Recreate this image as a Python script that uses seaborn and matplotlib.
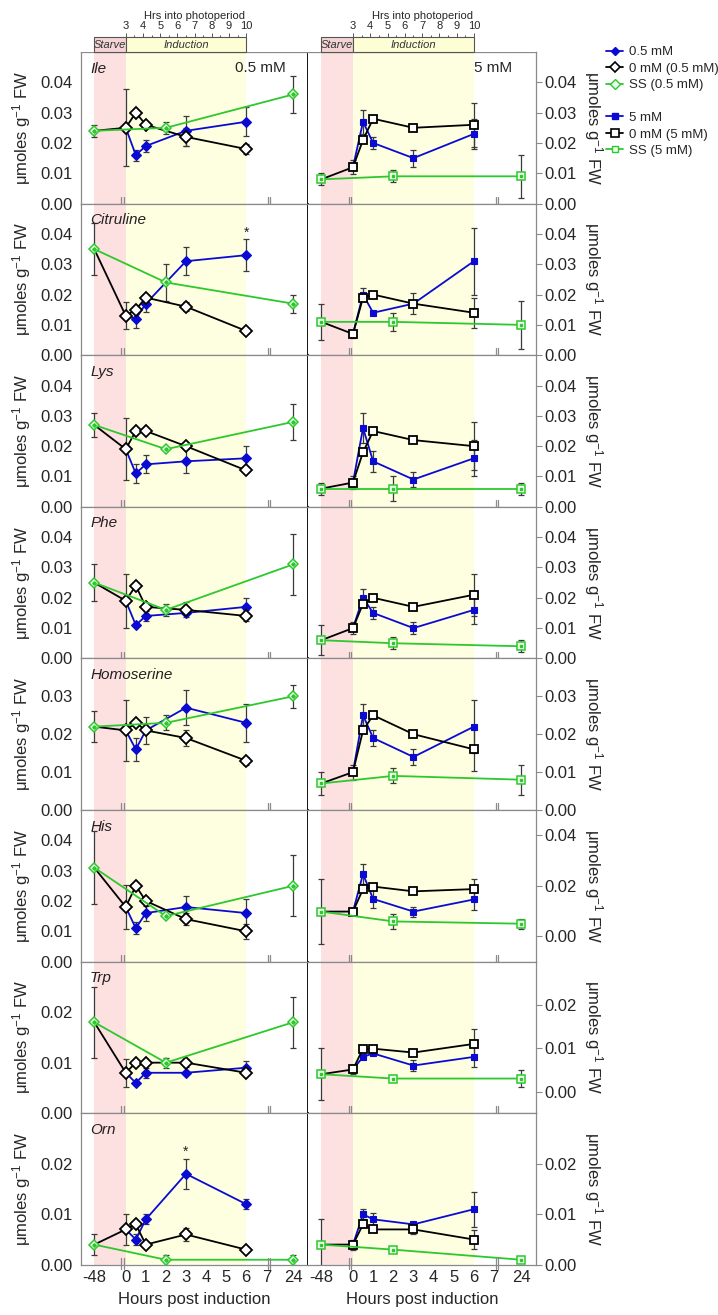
import numpy as np
import matplotlib
matplotlib.use("Agg")
import matplotlib.pyplot as plt
import seaborn as sns
from matplotlib.lines import Line2D
from matplotlib.patches import Rectangle

sns.set_theme(style="white")
plt.rcParams["font.family"] = ["Liberation Sans", "DejaVu Sans"]
plt.rcParams["mathtext.default"] = "regular"

amino = ["Ile", "Citruline", "Lys", "Phe", "Homoserine", "His", "Trp", "Orn"]

# sampling times (hours post induction)
t_trt = [0.5, 1, 3, 6]
t_ctl = [0, 0.5, 1, 3, 6]
t_ss = [-48, 2, 24]

# ---- 0.5 mM side ----
trt_low = [[0.016, 0.019, 0.024, 0.027], [0.012, 0.017, 0.031, 0.033],
           [0.011, 0.014, 0.015, 0.016], [0.011, 0.014, 0.015, 0.017],
           [0.016, 0.021, 0.027, 0.023], [0.011, 0.016, 0.018, 0.016],
           [0.006, 0.008, 0.008, 0.009], [0.005, 0.009, 0.018, 0.012]]
trt_low_err = [[0.0018, 0.002, 0.005, 0.0048], [0.003, 0.0027, 0.0047, 0.0052],
               [0.003, 0.003, 0.004, 0.004], [0, 0.0015, 0, 0.003],
               [0.003, 0, 0.0047, 0.005], [0.002, 0.0025, 0.0037, 0.0045],
               [0, 0.001, 0, 0.0013], [0.001, 0.001, 0.003, 0.001]]
ctl_low = [[0.025, 0.030, 0.026, 0.022, 0.018], [0.013, 0.015, 0.019, 0.016, 0.008],
           [0.019, 0.025, 0.025, 0.020, 0.012], [0.019, 0.024, 0.017, 0.016, 0.014],
           [0.021, 0.023, 0.021, 0.019, 0.013], [0.018, 0.025, 0.020, 0.014, 0.010],
           [0.008, 0.010, 0.010, 0.010, 0.008], [0.007, 0.008, 0.004, 0.006, 0.003]]
ctl_low_err = [[0.0127, 0, 0, 0.003, 0.0015], [0.0045, 0, 0, 0.0015, 0],
               [0.0103, 0, 0, 0, 0], [0.009, 0, 0, 0.0025, 0.0018],
               [0.008, 0, 0.0035, 0.002, 0.001], [0.0074, 0, 0, 0.002, 0.0025],
               [0.0028, 0, 0, 0.0008, 0], [0.003, 0, 0, 0.0013, 0]]
ss_low = [[0.024, 0.025, 0.036], [0.035, 0.024, 0.017], [0.027, 0.019, 0.028],
          [0.025, 0.016, 0.031], [0.022, 0.023, 0.030], [0.031, 0.015, 0.025],
          [0.018, 0.010, 0.018], [0.004, 0.001, 0.001]]
ss_low_err = [[0.002, 0.002, 0.006], [0.0087, 0.006, 0.003], [0.004, 0, 0.006],
              [0.006, 0.002, 0.010], [0.004, 0.002, 0.003], [0.012, 0, 0.010],
              [0.007, 0.001, 0.005], [0.002, 0.001, 0.001]]

# ---- 5 mM side ----
trt_high = [[0.027, 0.020, 0.015, 0.023], [0.020, 0.014, 0.017, 0.031],
            [0.026, 0.015, 0.009, 0.016], [0.020, 0.015, 0.010, 0.016],
            [0.025, 0.019, 0.014, 0.022], [0.0247, 0.0148, 0.0098, 0.0146],
            [0.008, 0.0088, 0.006, 0.008], [0.010, 0.009, 0.008, 0.011]]
trt_high_err = [[0.004, 0.002, 0.0028, 0.005], [0.002, 0, 0, 0.011],
                [0.005, 0.0035, 0.0024, 0.006], [0.003, 0.002, 0.002, 0.0045],
                [0.003, 0.002, 0.002, 0.007], [0.004, 0.0035, 0.002, 0.004],
                [0, 0, 0.0013, 0.0023], [0.001, 0.0013, 0, 0.0035]]
ctl_high = [[0.012, 0.021, 0.028, 0.025, 0.026], [0.007, 0.019, 0.020, 0.017, 0.014],
            [0.008, 0.018, 0.025, 0.022, 0.020], [0.010, 0.018, 0.020, 0.017, 0.021],
            [0.010, 0.021, 0.025, 0.020, 0.016], [0.0098, 0.0187, 0.0197, 0.0178, 0.0187],
            [0.0051, 0.0099, 0.0099, 0.009, 0.011], [0.004, 0.008, 0.007, 0.007, 0.005]]
ctl_high_err = [[0.0023, 0, 0, 0, 0.0073], [0.0014, 0, 0, 0.0034, 0.005],
                [0.002, 0, 0, 0, 0.008], [0.002, 0, 0, 0, 0.007],
                [0.002, 0, 0, 0, 0.0057], [0, 0, 0, 0, 0.004],
                [0.001, 0, 0, 0, 0.0035], [0.001, 0, 0, 0.001, 0.0018]]
ss_high = [[0.008, 0.009, 0.009], [0.011, 0.011, 0.010], [0.006, 0.006, 0.006],
           [0.006, 0.005, 0.004], [0.007, 0.009, 0.008], [0.0098, 0.0059, 0.005],
           [0.004, 0.003, 0.003], [0.004, 0.003, 0.001]]
ss_high_err = [[0.002, 0.002, 0.007], [0.006, 0.003, 0.008], [0.002, 0.004, 0.002],
               [0.005, 0.002, 0.002], [0.003, 0.002, 0.004], [0.013, 0.003, 0.002],
               [0.006, 0, 0.002], [0.005, 0, 0]]

# significant points on the 0.5 mM side: (panel, hour)
stars = [(1, 6), (7, 3)]

# axis ranges per panel
ylim_low = [(0, 0.05)] * 4 + [(0, 0.04), (0, 0.05), (0, 0.03), (0, 0.03)]
ylim_high = [(0, 0.05)] * 4 + [(0, 0.04), (-0.01, 0.05), (-0.005, 0.03), (0, 0.03)]
yt4 = [0, 0.01, 0.02, 0.03, 0.04]
yt3 = [0, 0.01, 0.02, 0.03]
yt2 = [0, 0.01, 0.02]
yticks_low = [yt4] * 4 + [yt3, yt4, yt2, yt2]
yticks_high = [yt4] * 4 + [yt3, [0, 0.02, 0.04], yt2, yt2]

hour_ticks = [-48, 0, 1, 2, 3, 4, 5, 6, 7, 24]
photo_ticks = [3, 4, 5, 6, 7, 8, 9, 10]

BLUE = "#0a0ad2"
GREEN = "#2ec82e"
PINK = "#fde0e0"
YELLOW = "#fefee0"
GREY = "#8a8a8a"
YLAB = r"$\mu$moles g$^{-1}$ FW"


def hpos(h):
    # broken time axis: -48 h and 24 h sit just outside the 0-7 h stretch
    if h == -48:
        return -1.57
    if h == 24:
        return 8.34
    return h


def errbars(ax, xs, ys, es):
    xs, ys, es = np.asarray(xs, float), np.asarray(ys, float), np.asarray(es, float)
    m = es > 0
    if m.any():
        ax.errorbar(xs[m], ys[m], yerr=es[m], fmt="none", ecolor="#3a3a3a",
                    elinewidth=0.9, capsize=2.5, capthick=0.9, zorder=2)


def draw_panel(ax, trt, trt_e, ctl, ctl_e, ss, ss_e, mk):
    ax.axvspan(hpos(-48), 0, color=PINK, lw=0, zorder=0)
    ax.axvspan(0, 6, color=YELLOW, lw=0, zorder=0)
    xs_ss = [hpos(t) for t in t_ss]

    errbars(ax, t_trt, trt, trt_e)
    errbars(ax, t_ctl, ctl, ctl_e)
    errbars(ax, xs_ss, ss, ss_e)

    big = 6.5 if mk == "D" else 6
    # treated line starts from the control value at 0 h
    sns.lineplot(x=[0] + t_trt, y=[ctl[0]] + trt, ax=ax, color=BLUE, lw=1.3,
                 marker=mk, markersize=4.8, markerfacecolor=BLUE, markeredgecolor=BLUE,
                 markeredgewidth=0.8, markevery=[1, 2, 3, 4], errorbar=None, zorder=3)
    # control line starts from the steady state value at -48 h
    sns.lineplot(x=[xs_ss[0]] + t_ctl, y=[ss[0]] + ctl, ax=ax, color="black", lw=1.3,
                 marker=mk, markersize=big, markerfacecolor="white", markeredgecolor="black",
                 markeredgewidth=1.3, markevery=[1, 2, 3, 4, 5], errorbar=None, zorder=4)
    sns.lineplot(x=xs_ss, y=ss, ax=ax, color=GREEN, lw=1.3, marker=mk, markersize=5.5,
                 markerfacecolor="#eaffea", markeredgecolor=GREEN, markeredgewidth=1.1,
                 errorbar=None, zorder=5)
    ax.plot(xs_ss, ss, ls="none", marker=mk, ms=1.8, color=GREEN, zorder=6)


def style_axes(ax, row, side, ylim, yticks):
    ax.set_xlim(-2.23, 9.08)
    ax.set_ylim(*ylim)
    ax.set_xticks([hpos(h) for h in hour_ticks])
    ax.set_xticks([-1.2, -0.85, -0.5] + list(np.arange(0.5, 7, 1.0)), minor=True)
    if row == 7:
        ax.set_xticklabels([str(h) for h in hour_ticks])
        ax.set_xlabel("Hours post induction", fontsize=12, labelpad=5)
    else:
        ax.set_xticklabels([])
    ax.tick_params(axis="x", which="major", direction="in", length=4, width=0.8,
                   color=GREY, labelsize=12, pad=4)
    ax.tick_params(axis="x", which="minor", direction="in", length=2.5, width=0.8,
                   color=GREY)
    ax.set_yticks(yticks)
    ax.yaxis.set_major_formatter("{x:.2f}")
    ax.tick_params(axis="y", direction="out", length=4, width=0.8, color=GREY,
                   labelsize=12, pad=2)
    for sp in ax.spines.values():
        sp.set_color(GREY)
        sp.set_linewidth(0.9)
    if side == 0:
        ax.spines["right"].set_color("black")
        ax.spines["right"].set_linewidth(1.3)
        ax.set_ylabel(YLAB, fontsize=12, labelpad=5)
    else:
        ax.spines["left"].set_visible(False)
        ax.yaxis.tick_right()
        ax.yaxis.set_label_position("right")
        ax.set_ylabel(YLAB, fontsize=12, rotation=270, va="bottom", labelpad=4)
    # axis break marks on the time axis
    tr = ax.get_xaxis_transform()
    for bx in (-0.22, -0.1, 7.08, 7.2):
        ax.add_line(Line2D([bx, bx], [-0.03, 0.045], transform=tr, color=GREY,
                           lw=0.9, clip_on=False, zorder=7))


fig = plt.figure(figsize=(7.18, 13.15), dpi=100)
W, H = 718, 1315
top0, rowh = 52, 151.6
cols = [(81, 227), (308, 228)]

sides = [
    (trt_low, trt_low_err, ctl_low, ctl_low_err, ss_low, ss_low_err, "D", ylim_low, yticks_low),
    (trt_high, trt_high_err, ctl_high, ctl_high_err, ss_high, ss_high_err, "s", ylim_high, yticks_high),
]

for r in range(len(amino)):
    for c, (x0, w) in enumerate(cols):
        trt, trt_e, ctl, ctl_e, ss, ss_e, mk, ylims, yticks = sides[c]
        ax = fig.add_axes([x0 / W, 1 - (top0 + (r + 1) * rowh) / H, w / W, rowh / H])
        draw_panel(ax, trt[r], trt_e[r], ctl[r], ctl_e[r], ss[r], ss_e[r], mk)
        style_axes(ax, r, c, ylims[r], yticks[r])
        if c == 0:
            ax.text(0.04, 0.89, amino[r], transform=ax.transAxes, style="italic",
                    fontsize=11, va="center", ha="left", color="#222222")
            for pr, ph in stars:
                if pr == r:
                    i = t_trt.index(ph)
                    ax.annotate("*", (ph, trt[r][i] + trt_e[r][i]), xytext=(0, 5),
                                textcoords="offset points", ha="center", va="center",
                                fontsize=10, color="#222222")
        if r == 0:
            ax.text(0.9 if c == 0 else 0.895, 0.895, "0.5 mM" if c == 0 else "5 mM",
                    transform=ax.transAxes, ha="right", va="center", fontsize=11)
            # header strip: starve / induction bar and photoperiod axis
            hx = fig.add_axes([x0 / W, 1 - top0 / H, w / W, 15 / H])
            hx.set_xlim(-2.23, 9.08)
            hx.set_ylim(0, 1)
            hx.add_patch(Rectangle((hpos(-48), 0), -hpos(-48), 1, facecolor="#f4d4d4",
                                   edgecolor="#555555", lw=0.8, clip_on=False))
            hx.add_patch(Rectangle((0, 0), 6, 1, facecolor="#fdfdd6",
                                   edgecolor="#555555", lw=0.8, clip_on=False))
            hx.text(hpos(-48) / 2, 0.5, "Starve", style="italic", fontsize=8,
                    ha="center", va="center", color="#333333")
            hx.text(3, 0.5, "Induction", style="italic", fontsize=8,
                    ha="center", va="center", color="#333333")
            for sp in hx.spines.values():
                sp.set_visible(False)
            hx.set_yticks([])
            hx.xaxis.set_ticks_position("top")
            hx.xaxis.set_label_position("top")
            hx.set_xticks([(p - 3) * 6 / 7 for p in photo_ticks])
            hx.set_xticklabels([str(p) for p in photo_ticks])
            hx.set_xticks([(p + 0.5 - 3) * 6 / 7 for p in photo_ticks[:-1]], minor=True)
            hx.tick_params(axis="x", which="major", direction="out", length=3, width=0.7,
                           color="#555555", labelsize=8, pad=1)
            hx.tick_params(axis="x", which="minor", direction="out", length=1.8,
                           width=0.7, color="#555555")
            hx.set_xlabel("Hrs into photoperiod", fontsize=8, labelpad=2)

# legend
handles = [
    Line2D([], [], color=BLUE, marker="D", ms=4.5, mfc=BLUE, mec=BLUE, lw=1.3),
    Line2D([], [], color="black", marker="D", ms=5.5, mfc="white", mec="black", mew=1.2, lw=1.3),
    Line2D([], [], color=GREEN, marker="D", ms=5, mfc="#eaffea", mec=GREEN, lw=1.3),
    Line2D([], [], color="none"),
    Line2D([], [], color=BLUE, marker="s", ms=4.5, mfc=BLUE, mec=BLUE, lw=1.3),
    Line2D([], [], color="black", marker="s", ms=5.5, mfc="white", mec="black", mew=1.2, lw=1.3),
    Line2D([], [], color=GREEN, marker="s", ms=5, mfc="#eaffea", mec=GREEN, lw=1.3),
]
labels = ["0.5 mM", "0 mM (0.5 mM)", "SS (0.5 mM)", "", "5 mM", "0 mM (5 mM)", "SS (5 mM)"]
fig.legend(handles, labels, loc="upper left", bbox_to_anchor=(606 / W, 1 - 46 / H),
           frameon=False, fontsize=9.5, handlelength=1.3, handletextpad=0.45,
           labelspacing=0.32, borderaxespad=0, borderpad=0)

fig.savefig("out.png", dpi=100)
